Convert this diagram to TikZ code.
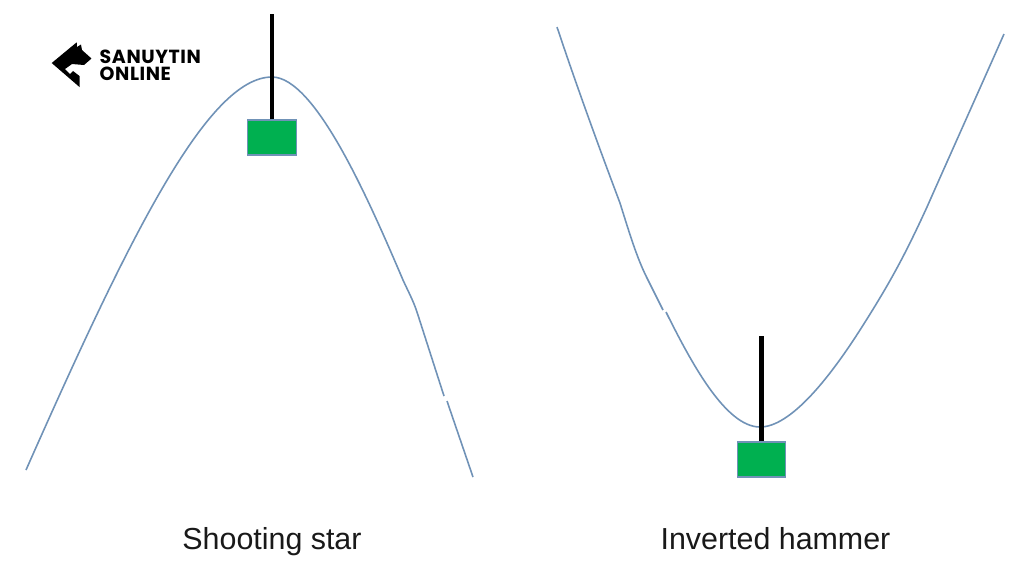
\documentclass[tikz,border=0pt]{standalone}
\usepackage{fontspec}
\setmainfont{Liberation Sans}
\newfontfamily\logofont[LetterSpace=3]{Poppins}
\definecolor{curveblue}{RGB}{112,146,183}
\definecolor{bodygreen}{RGB}{0,176,80}
\begin{document}
\begin{tikzpicture}[
	curve/.style={draw=curveblue, line width=0.45pt},
	body/.style={rectangle, draw=curveblue, line width=0.4pt, fill=bodygreen, minimum width=0.485cm, minimum height=0.35cm, inner sep=0pt},
	wick/.style={line width=1.15pt, black},
	caption/.style={font=\fontsize{8.65}{10}\selectfont, text=black!90, anchor=base},
	brand/.style={font=\logofont\bfseries\fontsize{5.4}{5}\selectfont, align=left, inner sep=0pt, anchor=base west}
]
	\useasboundingbox (0,0) rectangle (10.24,-5.76);
	\fill[white] (0,0) rectangle (10.24,-5.76);
	% curves
	\draw[curve] (0.26,-4.70) .. controls (1.30,-2.35) and (2.08,-0.77) .. (2.72,-0.77) .. controls (3.15,-0.77) and (3.68,-1.98) .. (4.03,-2.80) .. controls (4.08,-2.91) and (4.13,-3.00) .. (4.17,-3.12) -- (4.44,-3.96);
	\draw[curve] (4.47,-4.01) -- (4.73,-4.77);
	\draw[curve] (5.57,-0.27) .. controls (5.77,-0.87) and (6.00,-1.50) .. (6.20,-2.03) .. controls (6.30,-2.35) and (6.37,-2.58) .. (6.47,-2.78) -- (6.63,-3.10);
	\draw[curve] (6.66,-3.12) .. controls (6.90,-3.60) and (7.25,-4.27) .. (7.60,-4.27) .. controls (7.90,-4.27) and (8.28,-3.80) .. (8.60,-3.30) .. controls (8.90,-2.83) and (9.05,-2.55) .. (9.27,-2.07) .. controls (9.50,-1.55) and (9.85,-0.77) .. (10.04,-0.34);
	% candles
	\node[body] (left body) at (2.72,-1.375) {};
	\coordinate (left tip) at (2.72,-0.14);
	\draw[wick] (left body.north) -- (left tip);
	\node[body] (right body) at (7.615,-4.595) {};
	\coordinate (right tip) at (7.615,-3.36);
	\draw[wick] (right body.north) -- (right tip);
	% captions
	\node[caption] (left label) at (2.72,-5.49) {Shooting star};
	\node[caption] (right label) at (7.755,-5.49) {Inverted hammer};
	% logo
	\fill[black] (0.517,-0.63) -- (0.767,-0.423) -- (0.77,-0.47) -- (0.81,-0.445) -- (0.82,-0.50) -- (0.915,-0.585) -- (0.84,-0.65) -- (0.72,-0.64) -- (0.65,-0.69) -- (0.70,-0.74) -- (0.73,-0.71) -- (0.795,-0.76) -- (0.795,-0.87) -- cycle;
	\node[brand] (logo text) at (0.99,-0.63) {SANUYTIN};
	\node[brand] (logo text two) at (0.99,-0.80) {ONLINE};
\end{tikzpicture}
\end{document}
